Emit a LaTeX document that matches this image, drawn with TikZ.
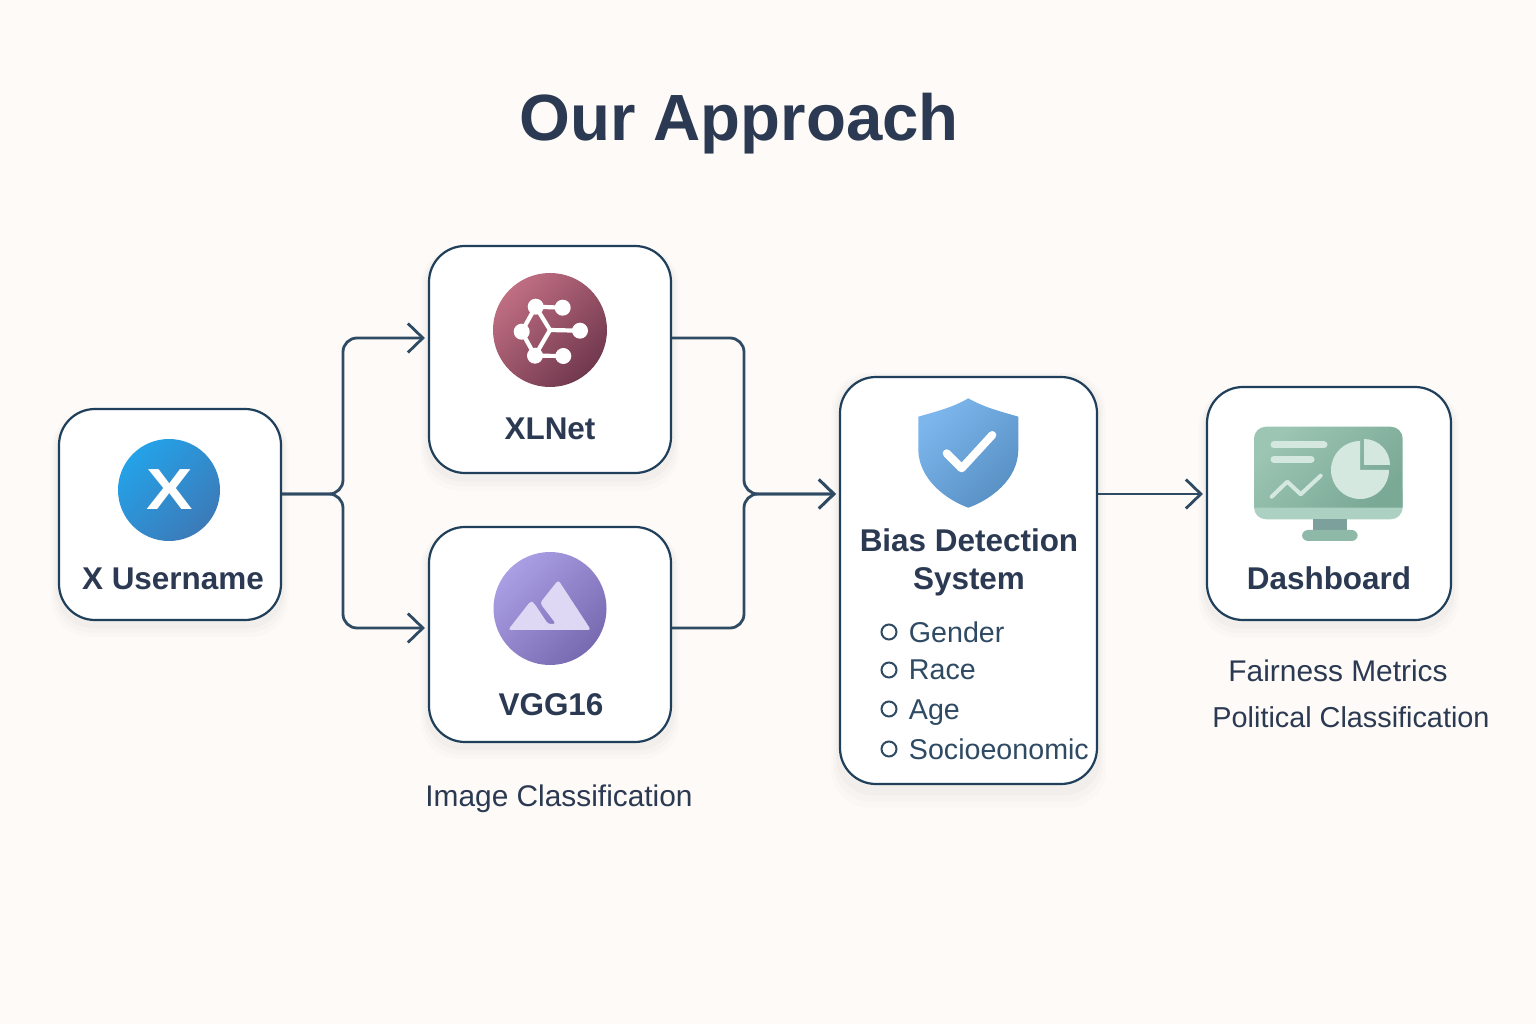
\documentclass[tikz,border=0pt]{standalone}
\usepackage{fontspec}
\setmainfont{Liberation Sans}
\usetikzlibrary{arrows.meta, shadows}

\definecolor{paper}{HTML}{FDFAF7}
\definecolor{inkdark}{HTML}{2B3A52}
\definecolor{boxedge}{HTML}{1F3F5B}
\definecolor{linkcol}{HTML}{2F4A63}
\definecolor{pale}{HTML}{D5E8DF}
\definecolor{screena}{HTML}{9CC5B3}
\definecolor{screenb}{HTML}{7AA996}
\definecolor{screenband}{HTML}{ACD0C1}
\definecolor{standcol}{HTML}{7CA09C}
\definecolor{basecol}{HTML}{8EB8A8}
\definecolor{xbluea}{HTML}{24A2E8}
\definecolor{xblueb}{HTML}{3C7AB8}
\definecolor{xlneta}{HTML}{C06E82}
\definecolor{xlnetb}{HTML}{70384E}
\definecolor{vgga}{HTML}{AA9EE4}
\definecolor{vggb}{HTML}{786AB0}
\definecolor{peakcol}{HTML}{DED8F5}
\definecolor{shielda}{HTML}{7CB6EC}
\definecolor{shieldb}{HTML}{5890C4}

\tikzset{
  cardbox/.style={draw=boxedge, line width=0.22mm, fill=white, rounded corners=3.6mm, inner sep=0pt,
    general shadow={fill=black, opacity=0.012, shadow yshift=-0.9mm, shadow scale=1.07},
    general shadow={fill=black, opacity=0.016, shadow yshift=-0.7mm, shadow scale=1.05},
    general shadow={fill=black, opacity=0.020, shadow yshift=-0.5mm, shadow scale=1.03}},
  cardname/.style={anchor=base, text=inkdark, font=\bfseries\fontsize{8.95}{11}\selectfont},
  caption/.style={anchor=base, text=inkdark, font=\fontsize{8.5}{10}\selectfont},
  traititem/.style={anchor=base west, text=linkcol, font=\fontsize{8.15}{10}\selectfont},
  traitdot/.style={draw=linkcol, line width=0.2mm, circle, minimum size=1.5mm, inner sep=0pt},
  link/.style={draw=linkcol, line width=0.28mm, rounded corners=1.4mm},
  linkarrow/.style={link, -{Straight Barb[length=1.5mm,width=2.9mm,line width=0.28mm]}, shorten >=0.3mm},
  iconline/.style={draw=white, line width=0.42mm, line cap=round, line join=round}
}

\begin{document}
\begin{tikzpicture}[x=0.1mm, y=-0.1mm]
  % Page size and background
  \fill[paper] (0,0) rectangle (1536,1024);
  \useasboundingbox (0,0) rectangle (1536,1024);

  % Title
  \node[anchor=base, text=inkdark, font=\bfseries\fontsize{18.6}{22}\selectfont] (title) at (739,141) {Our Approach};

  % Cards
  \node[cardbox, minimum width=22.2mm, minimum height=21.1mm] (xuser) at (170,514.5) {};
  \node[cardbox, minimum width=24.2mm, minimum height=22.7mm] (xlnet) at (550,359.5) {};
  \node[cardbox, minimum width=24.2mm, minimum height=21.5mm] (vgg) at (550,634.5) {};
  \node[cardbox, minimum width=25.7mm, minimum height=40.7mm] (bias) at (968.5,580.5) {};
  \node[cardbox, minimum width=24.4mm, minimum height=23.3mm] (dash) at (1329,503.5) {};

  % Heights at which the connectors run
  \coordinate (split) at (343,494);
  \coordinate (merge) at (744,494);
  \coordinate (upper) at (0,338);
  \coordinate (lower) at (0,628);

  % Connectors
  \draw[linkarrow] (xuser.east |- split) -- (split) -- (split |- upper) -- (xlnet.west |- upper);
  \draw[linkarrow] (xuser.east |- split) -- (split) -- (split |- lower) -- (vgg.west |- lower);
  \draw[linkarrow] (xlnet.east |- upper) -- (merge |- upper) -- (merge) -- (bias.west |- merge);
  \draw[linkarrow] (vgg.east |- lower) -- (merge |- lower) -- (merge) -- (bias.west |- merge);
  \draw[linkarrow] (bias.east |- merge) -- (dash.west |- merge);

  % X icon
  \shade[top color=xbluea, bottom color=xblueb, shading angle=45] (169,490) circle (51);
  \node[text=white, xscale=1.2, font=\bfseries\fontsize{16.5}{18}\selectfont] (xmark) at (169.5,490) {X};

  % XLNet icon
  \shade[top color=xlneta, bottom color=xlnetb, shading angle=45] (550,330) circle (57);
  \draw[iconline] (535.7,306.7) -- (562.7,307.7);
  \draw[iconline] (535.7,306.7) -- (521.7,331.7) -- (535,355.7) -- (563.3,356);
  \draw[iconline] (535.7,306.7) -- (550,330) -- (535,355.7);
  \draw[iconline] (550,330) -- (580,330.7);
  \foreach \px/\py in {535.7/306.7, 562.7/307.7, 521.7/331.7, 580/330.7, 535/355.7, 563.3/356}
    \fill[white] (\px,\py) circle (8);

  % VGG16 icon
  \shade[top color=vgga, bottom color=vggb, shading angle=45] (550,608.5) circle (56.5);
  \fill[peakcol, rounded corners=0.3mm] (508,630) -- (530.7,601) -- (534,603) -- (548,624) -- (556,624) -- (540,603) -- (558.3,580) -- (591,630) -- cycle;

  % Shield icon
  \shade[top color=shielda, bottom color=shieldb, shading angle=45]
    (968.3,398.3) .. controls (985,408) and (1003,412) .. (1018.3,416.7) -- (1018.3,450)
    .. controls (1018,480) and (990,500) .. (968.3,507.7)
    .. controls (947,500) and (919,480) .. (918.3,450) -- (918.3,416.7)
    .. controls (934,412) and (952,408) .. (968.3,398.3) -- cycle;
  \draw[white, line width=0.8mm, line cap=round, line join=round] (946.7,453.3) -- (961.7,468.3) -- (992.3,435);

  % Dashboard icon
  \fill[screenband, rounded corners=1.2mm] (1254,480) rectangle (1402.7,519.3);
  \shade[top color=screena, bottom color=screenb, shading angle=45]
    (1254,507.7) [rounded corners=1.2mm] -- (1254,426.7) -- (1402.7,426.7) [sharp corners] -- (1402.7,507.7) -- cycle;
  \fill[standcol] (1313.3,519.3) rectangle (1346.7,530);
  \fill[basecol, rounded corners=0.6mm] (1302,530) rectangle (1357.7,541);
  \draw[pale, line width=0.7mm, line cap=round] (1274,445) -- (1324,445);
  \draw[pale, line width=0.7mm, line cap=round] (1274,459.3) -- (1311,459.3);
  \draw[pale, line width=0.4mm, line cap=round, line join=round] (1271.7,496.7) -- (1287.3,481.7) -- (1300.7,494.3) -- (1320.7,475.7);
  \fill[pale] (1360,470) -- ++(29,0) arc[start angle=0, end angle=270, radius=29] -- cycle;
  \fill[pale] (1364,465) -- ++(26,0) arc[start angle=0, end angle=-90, radius=26] -- cycle;

  % Card names
  \node[cardname] (xusername) at (173,589) {X Username};
  \node[cardname] (xlnetname) at (550,440) {XLNet};
  \node[cardname] (vggname) at (551,716) {VGG16};
  \node[cardname] (biasname) at (969,552) {Bias Detection};
  \node[cardname] (sysname) at (969,590) {System};
  \node[cardname] (dashname) at (1329,590) {Dashboard};

  % Bias checklist
  \foreach \nm/\itemy/\lab in {gender/632/Gender, race/670/Race, age/709/Age, socio/749/Socioeonomic}{
    \node[traitdot] (dot\nm) at (889,\itemy) {};
    \node[traititem] (item\nm) at (896.5,\itemy+10) {\lab};
  }

  % Captions
  \node[caption] (imgcap) at (559,806) {Image Classification};
  \node[caption] (faircap) at (1338,682) {Fairness Metrics};
  \node[caption, font=\fontsize{8.2}{10}\selectfont] (polcap) at (1351,727) {Political Classification};
\end{tikzpicture}
\end{document}
